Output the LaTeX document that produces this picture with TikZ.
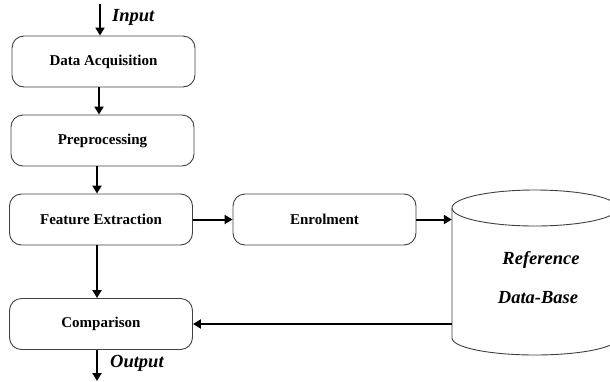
\documentclass[tikz,border=0pt]{standalone}
\usepackage{fontspec}
\setmainfont{Liberation Serif}
\usetikzlibrary{arrows.meta}
\begin{document}
\begin{tikzpicture}[x=1pt,y=-1pt,
  stage/.style={draw=black!75, line width=0.9pt, rounded corners=12pt, minimum width=183pt, minimum height=51pt, inner sep=0pt, font=\fontsize{15}{18}\selectfont\bfseries},
  flow/.style={line width=2pt, -{Triangle[length=8pt,width=9pt]}},
  lbl/.style={font=\fontsize{18.5}{22}\selectfont\bfseries\itshape, inner sep=0pt}]
\useasboundingbox (0,0) rectangle (610,381);
\node[stage] (acq) at (103.5,61.5) {Data Acquisition};
\node[stage] (pre) at (102.5,140.5) {Preprocessing};
\node[stage] (fe) at (101,219.5) {Feature Extraction};
\node[stage] (cmp) at (101,324) {Comparison};
\node[stage] (enr) at (324.5,219.5) {Enrolment};
% database cylinder
\node[minimum width=166pt, minimum height=166pt, inner sep=0pt] (db) at (535,272) {};
\draw[black!75, line width=0.9pt, fill=white]
  (452,208) -- (452,338) arc[start angle=180, end angle=0, x radius=83, y radius=17]
  -- (618,208);
\draw[black!75, line width=0.9pt] (535,208) ellipse[x radius=83, y radius=18];
\node[lbl] (ref) at (541,260) {Reference};
\node[lbl] (dbt) at (538,298) {Data-Base};
% input / output
\coordinate (in) at (100,4);
\coordinate (out) at (97,381);
\node[lbl, anchor=west] (inl) at (112,17) {Input};
\node[lbl, anchor=west] (outl) at (110,363) {Output};
\draw[flow] (in) -- (in |- acq.north);
\draw[flow] (acq.south -| 99,0) -- (pre.north -| 99,0);
\draw[flow] (pre.south -| 97,0) -- (fe.north -| 97,0);
\draw[flow] (fe.south -| 97,0) -- (cmp.north -| 97,0);
\draw[flow] (cmp.south -| out) -- (out);
\draw[flow] (fe.east) -- (fe.east -| enr.west);
\draw[flow] (enr.east) -- (enr.east -| db.west);
\draw[flow] (cmp.east -| db.west) -- (cmp.east);
\end{tikzpicture}
\end{document}
